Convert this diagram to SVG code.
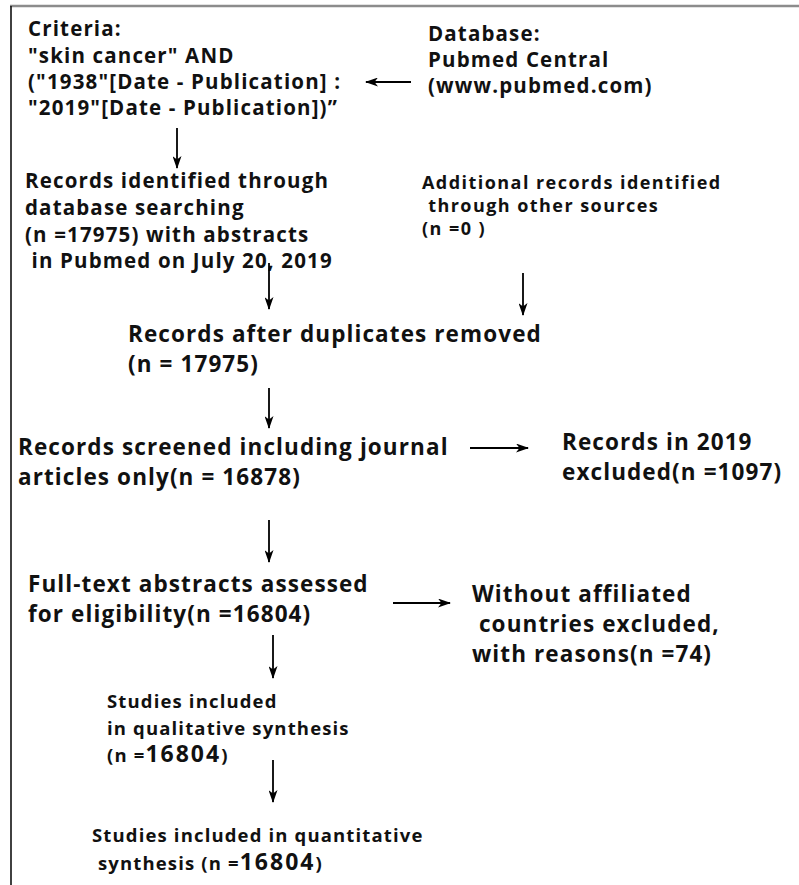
<svg xmlns="http://www.w3.org/2000/svg" width="799" height="885" viewBox="0 0 799 885">
<defs>
<marker id="ah" viewBox="0 0 13 9" refX="12" refY="4.5" markerWidth="13" markerHeight="9" markerUnits="userSpaceOnUse" orient="auto">
<path d="M0,0 L13,4.5 L0,9 L3.5,4.5 z" fill="#000"/>
</marker>
<style>
text{font-family:"Open Sans","Noto Sans","Liberation Sans",sans-serif;font-weight:700;fill:#111}
.a{font-size:20.5px;letter-spacing:1.15px}
.b{font-size:22.5px;letter-spacing:1.1px}
.c{font-size:18.5px;letter-spacing:1.15px}
.c2{font-size:18px;letter-spacing:1.45px}
.big{font-size:23px;letter-spacing:2px}
.ln{stroke:#000;stroke-width:1.8;fill:none;marker-end:url(#ah)}
</style>
</defs>
<rect width="799" height="885" fill="#fff"/>
<g id="frame">
<line x1="10" y1="6" x2="799" y2="6" stroke="#8c8c8c" stroke-width="2.3"/>
<line x1="11" y1="6" x2="11" y2="885" stroke="#111" stroke-width="1.6"/>
</g>
<g id="criteria">
<text class="a"><tspan x="28" y="36">Criteria:</tspan><tspan x="28" y="63">"skin cancer" AND</tspan><tspan x="28" y="89">("1938"[Date - Publication] :</tspan><tspan x="28" y="115">"2019"[Date - Publication])”</tspan></text>
</g>
<g id="database">
<text class="a"><tspan x="428" y="41">Database:</tspan><tspan x="428" y="67">Pubmed Central</tspan><tspan x="428" y="93">(www.pubmed.com)</tspan></text>
</g>
<g id="records-identified">
<text class="a" xml:space="preserve"><tspan x="25" y="188">Records identified through</tspan><tspan x="25" y="215">database searching</tspan><tspan x="25" y="241.5">(n =17975) with abstracts</tspan><tspan x="25" y="268"> in Pubmed on July 20, 2019</tspan></text>
</g>
<g id="additional">
<text class="c2" xml:space="preserve"><tspan x="422" y="188.5">Additional records identified</tspan><tspan x="422" y="211.5"> through other sources</tspan><tspan x="422" y="234.5">(n =0 )</tspan></text>
</g>
<g id="duplicates">
<text class="b"><tspan x="128" y="342">Records after duplicates removed</tspan><tspan x="128" y="372">(n = 17975)</tspan></text>
</g>
<g id="screened">
<text class="b"><tspan x="18" y="455">Records screened including journal</tspan><tspan x="18" y="485">articles only(n = 16878)</tspan></text>
</g>
<g id="excluded-2019">
<text class="b"><tspan x="562" y="450">Records in 2019</tspan><tspan x="562" y="480">excluded(n =1097)</tspan></text>
</g>
<g id="fulltext">
<text class="b"><tspan x="28" y="592">Full-text abstracts assessed</tspan><tspan x="28" y="622">for eligibility(n =16804)</tspan></text>
</g>
<g id="without-countries">
<text class="b" xml:space="preserve"><tspan x="472" y="602">Without affiliated</tspan><tspan x="472" y="632"> countries excluded,</tspan><tspan x="472" y="662">with reasons(n =74)</tspan></text>
</g>
<g id="qualitative">
<text class="c"><tspan x="107" y="708">Studies included</tspan><tspan x="107" y="735">in qualitative synthesis</tspan><tspan x="107" y="762">(n =</tspan><tspan class="big">16804</tspan><tspan>)</tspan></text>
</g>
<g id="quantitative">
<text class="c" xml:space="preserve"><tspan x="92" y="842">Studies included in quantitative</tspan><tspan x="92" y="870"> synthesis (n =</tspan><tspan class="big">16804</tspan><tspan>)</tspan></text>
</g>
<g id="connectors">
<line class="ln" x1="411" y1="82" x2="366" y2="82"/>
<line class="ln" x1="177" y1="128" x2="177" y2="168"/>
<line class="ln" x1="269" y1="263" x2="269" y2="309"/>
<line class="ln" x1="523" y1="273" x2="523" y2="315"/>
<line class="ln" x1="269" y1="388" x2="269" y2="428"/>
<line class="ln" x1="470" y1="448" x2="528" y2="448"/>
<line class="ln" x1="269" y1="520" x2="269" y2="562"/>
<line class="ln" x1="393" y1="603" x2="450" y2="603"/>
<line class="ln" x1="273" y1="635" x2="273" y2="678"/>
<line class="ln" x1="273" y1="760" x2="273" y2="802"/>
</g>
</svg>
